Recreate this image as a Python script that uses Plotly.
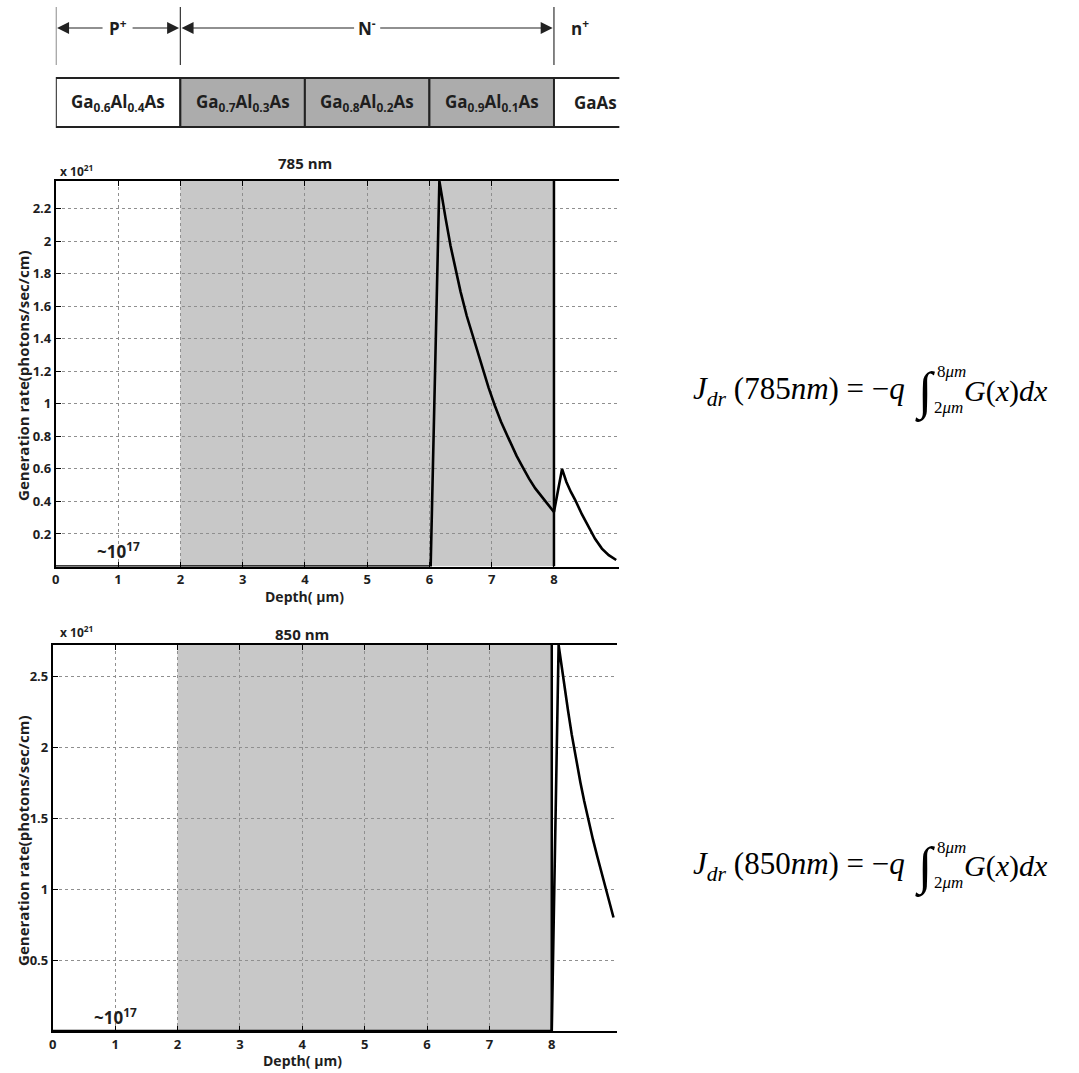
import plotly.graph_objects as go

W, H = 1079, 1073
def px(x): return x / W
def py(y): return 1 - y / H

# ---------------- data ----------------
depth_785 = [0.0, 6.02, 6.16, 6.2, 6.26, 6.34, 6.42, 6.5, 6.6, 6.7, 6.85, 6.95, 7.05, 7.15, 7.28,
             7.4, 7.5, 7.6, 7.7, 7.8, 7.9, 8.0, 8.13, 8.2, 8.27, 8.34, 8.45, 8.55, 8.66, 8.77, 8.88, 9.0]
gen_785 = [0.0, 0.0, 2.37, 2.27, 2.14, 1.97, 1.82, 1.69, 1.54, 1.41, 1.22, 1.10, 0.99, 0.89, 0.78,
           0.68, 0.61, 0.54, 0.48, 0.43, 0.38, 0.335, 0.60, 0.52, 0.46, 0.41, 0.32, 0.245, 0.17, 0.11, 0.07, 0.04]

depth_850 = [0.0, 8.0, 8.11, 8.16, 8.21, 8.26, 8.32, 8.39, 8.46, 8.52, 8.59, 8.66, 8.73, 8.80, 8.87, 8.93, 8.99]
gen_850 = [0.0, 0.0, 2.72, 2.56, 2.41, 2.26, 2.09, 1.91, 1.75, 1.62, 1.48, 1.35, 1.23, 1.11, 1.00, 0.90, 0.80]

x_ticks = [0, 1, 2, 3, 4, 5, 6, 7, 8]
y_ticks_785 = [0.2, 0.4, 0.6, 0.8, 1.0, 1.2, 1.4, 1.6, 1.8, 2.0, 2.2]
y_ticklabels_785 = ["0.2", "0.4", "0.6", "0.8", "1", "1.2", "1.4", "1.6", "1.8", "2", "2.2"]
y_ticks_850 = [0.5, 1.0, 1.5, 2.0, 2.5]
y_ticklabels_850 = ["0.5", "1", "1.5", "2", "2.5"]

layers = ["Ga<sub>0.6</sub>Al<sub>0.4</sub>As", "Ga<sub>0.7</sub>Al<sub>0.3</sub>As",
          "Ga<sub>0.8</sub>Al<sub>0.2</sub>As", "Ga<sub>0.9</sub>Al<sub>0.1</sub>As", "GaAs"]
layer_edges = [0, 2, 4, 6, 8, 9.1]
layer_shaded = [False, True, True, True, False]

regions = ["P<sup>+</sup>", "N<sup>-</sup>", "n<sup>+</sup>"]

YMAX_785 = 2.37
YMAX_850 = 2.72
XMAX = 9.05

FONT = "Open Sans"
SERIF = "Liberation Serif"
INK = "#1e1e1e"

fig = go.Figure()
fig.add_trace(go.Scatter(x=depth_785, y=gen_785, mode="lines",
                         line=dict(color="black", width=2.6), xaxis="x", yaxis="y",
                         showlegend=False))
fig.add_trace(go.Scatter(x=depth_850, y=gen_850, mode="lines",
                         line=dict(color="black", width=2.6), xaxis="x2", yaxis="y2",
                         showlegend=False))

axis_common = dict(showline=True, linecolor="black", linewidth=2, ticks="inside",
                   ticklen=5, tickcolor="black", showgrid=True, gridcolor="#8f8f8f",
                   griddash="dot", gridwidth=1, zeroline=False,
                   tickfont=dict(family=FONT, size=13, color=INK, weight="bold"))

fig.update_layout(
    width=W, height=H, margin=dict(l=0, r=0, t=0, b=0),
    paper_bgcolor="white", plot_bgcolor="white", showlegend=False,
    xaxis=dict(domain=[px(52), px(52 + XMAX * 62.5)], range=[0, XMAX], anchor="y",
               tickvals=x_ticks, mirror="ticks", **axis_common),
    yaxis=dict(domain=[py(566.5), py(181)], range=[0, YMAX_785], anchor="x",
               tickvals=y_ticks_785, ticktext=y_ticklabels_785, **axis_common),
    xaxis2=dict(domain=[px(49), px(49 + XMAX * 62.6)], range=[0, XMAX], anchor="y2",
                tickvals=x_ticks, mirror="ticks", **axis_common),
    yaxis2=dict(domain=[py(1031), py(645)], range=[0, YMAX_850], anchor="x2",
                tickvals=y_ticks_850, ticktext=y_ticklabels_850, **axis_common),
)

shapes = []
annotations = []

def note(**kw):
    kw.setdefault("showarrow", False)
    kw.setdefault("xanchor", "center")
    kw.setdefault("yanchor", "middle")
    annotations.append(kw)

# shaded N- region in both charts
for xr, yr, ymax in [("x", "y", YMAX_785), ("x2", "y2", YMAX_850)]:
    shapes.append(dict(type="rect", xref=xr, yref=yr, x0=2, x1=8, y0=0, y1=ymax,
                       fillcolor="#c8c8c8", line=dict(width=0), layer="below"))
    shapes.append(dict(type="line", xref=xr, yref=yr, x0=8, x1=8, y0=0, y1=ymax,
                       line=dict(color="black", width=2.5)))

# ---------------- header (structure diagram) ----------------
box_top, box_bot = py(78), py(127)
for i, lab in enumerate(layers):
    x0, x1 = layer_edges[i], layer_edges[i + 1]
    if i < len(layers) - 1:
        shapes.append(dict(type="rect", xref="x", yref="paper", x0=x0, x1=x1, y0=box_bot, y1=box_top,
                           fillcolor="#acacac" if layer_shaded[i] else "white",
                           line=dict(color="#222", width=2)))
    else:
        for yy in (box_top, box_bot):
            shapes.append(dict(type="line", xref="x", yref="paper", x0=x0, x1=x1, y0=yy, y1=yy,
                               line=dict(color="#222", width=2)))
    xc = (x0 + x1) / 2 if i < len(layers) - 1 else 8.66
    note(xref="x", yref="paper", x=xc, y=py(102), text=lab,
         font=dict(family=FONT, size=17, color=INK, weight="bold"))

for xv in [0, 2, 8]:
    shapes.append(dict(type="line", xref="x", yref="paper", x0=xv, x1=xv, y0=py(65), y1=py(7),
                       line=dict(color="#333", width=1.2)))

arrow_y = py(28)
def arrow(head_x, tail_px):
    annotations.append(dict(xref="x", yref="paper", x=head_x, y=arrow_y, text="",
                            showarrow=True, axref="pixel", ayref="pixel", ax=tail_px, ay=0,
                            arrowhead=2, arrowsize=2.0, arrowwidth=1.2, arrowcolor="#222"))

arrow(0.02, 47)
arrow(1.98, -48)
arrow(2.02, 174)
arrow(7.98, -174)
arrow(9.1, -30)
hdr_font = dict(family=FONT, size=17, color=INK, weight="bold")
note(xref="x", yref="paper", x=1.0, y=arrow_y, text=regions[0], font=hdr_font)
note(xref="x", yref="paper", x=5.0, y=arrow_y, text=regions[1], font=hdr_font)
note(xref="x", yref="paper", x=8.42, y=arrow_y, text=regions[2], font=hdr_font)

# ---------------- chart texts ----------------
lab_font = dict(family=FONT, size=15, color=INK, weight="bold")
for title, ytitle, yexp, ycen, ydepth, xr, yr, y17 in [
        ("785 nm", 163, 171, 376, 596, "x", "y", 0.1),
        ("850 nm", 634, 632, 841, 1060, "x2", "y2", 0.1)]:
    note(xref=xr, yref="paper", x=4.0, y=py(ytitle), text=title,
         font=dict(family=FONT, size=15, color=INK, weight="bold"))
    note(xref="paper", yref="paper", x=px(54), y=py(yexp), xanchor="left",
         text="x 10<sup>21</sup>", font=dict(family=FONT, size=12, color=INK, weight="bold"))
    note(xref="paper", yref="paper", x=px(19), y=py(ycen), textangle=-90,
         text="Generation rate(photons/sec/cm)", font=lab_font)
    note(xref=xr, yref="paper", x=4.0, y=py(ydepth), text="Depth( \u03bcm)",
         font=dict(family=FONT, size=14, color=INK, weight="bold"))
    note(xref=xr, yref=yr, x=1.0, y=y17, text="~10<sup>17</sup>",
         font=dict(family=FONT, size=17, color=INK, weight="bold"))

# ---------------- equations ----------------
def equation(wl, yc):
    f = dict(family=SERIF, size=31, color="black")
    note(xref="paper", yref="paper", x=px(906), y=py(yc), xanchor="right",
         text="<i>J</i><sub><i>dr</i></sub> (%s<i>nm</i>) = \u2212<i>q</i>" % wl, font=f)
    note(xref="paper", yref="paper", x=px(912), y=py(yc + 1), xanchor="left",
         text="\u222b", font=dict(family=SERIF, size=52, color="black"))
    note(xref="paper", yref="paper", x=px(934), y=py(yc - 19), xanchor="left",
         text="8<i>\u03bcm</i>", font=dict(family=SERIF, size=17, color="black"))
    note(xref="paper", yref="paper", x=px(931), y=py(yc + 16), xanchor="left",
         text="2<i>\u03bcm</i>", font=dict(family=SERIF, size=17, color="black"))
    note(xref="paper", yref="paper", x=px(962), y=py(yc), xanchor="left",
         text="<i>G</i>(<i>x</i>)<i>dx</i>", font=dict(family=SERIF, size=30, color="black"))

equation("785", 391)
equation("850", 866)

fig.update_layout(shapes=shapes, annotations=annotations)
fig.write_html("out.html")
